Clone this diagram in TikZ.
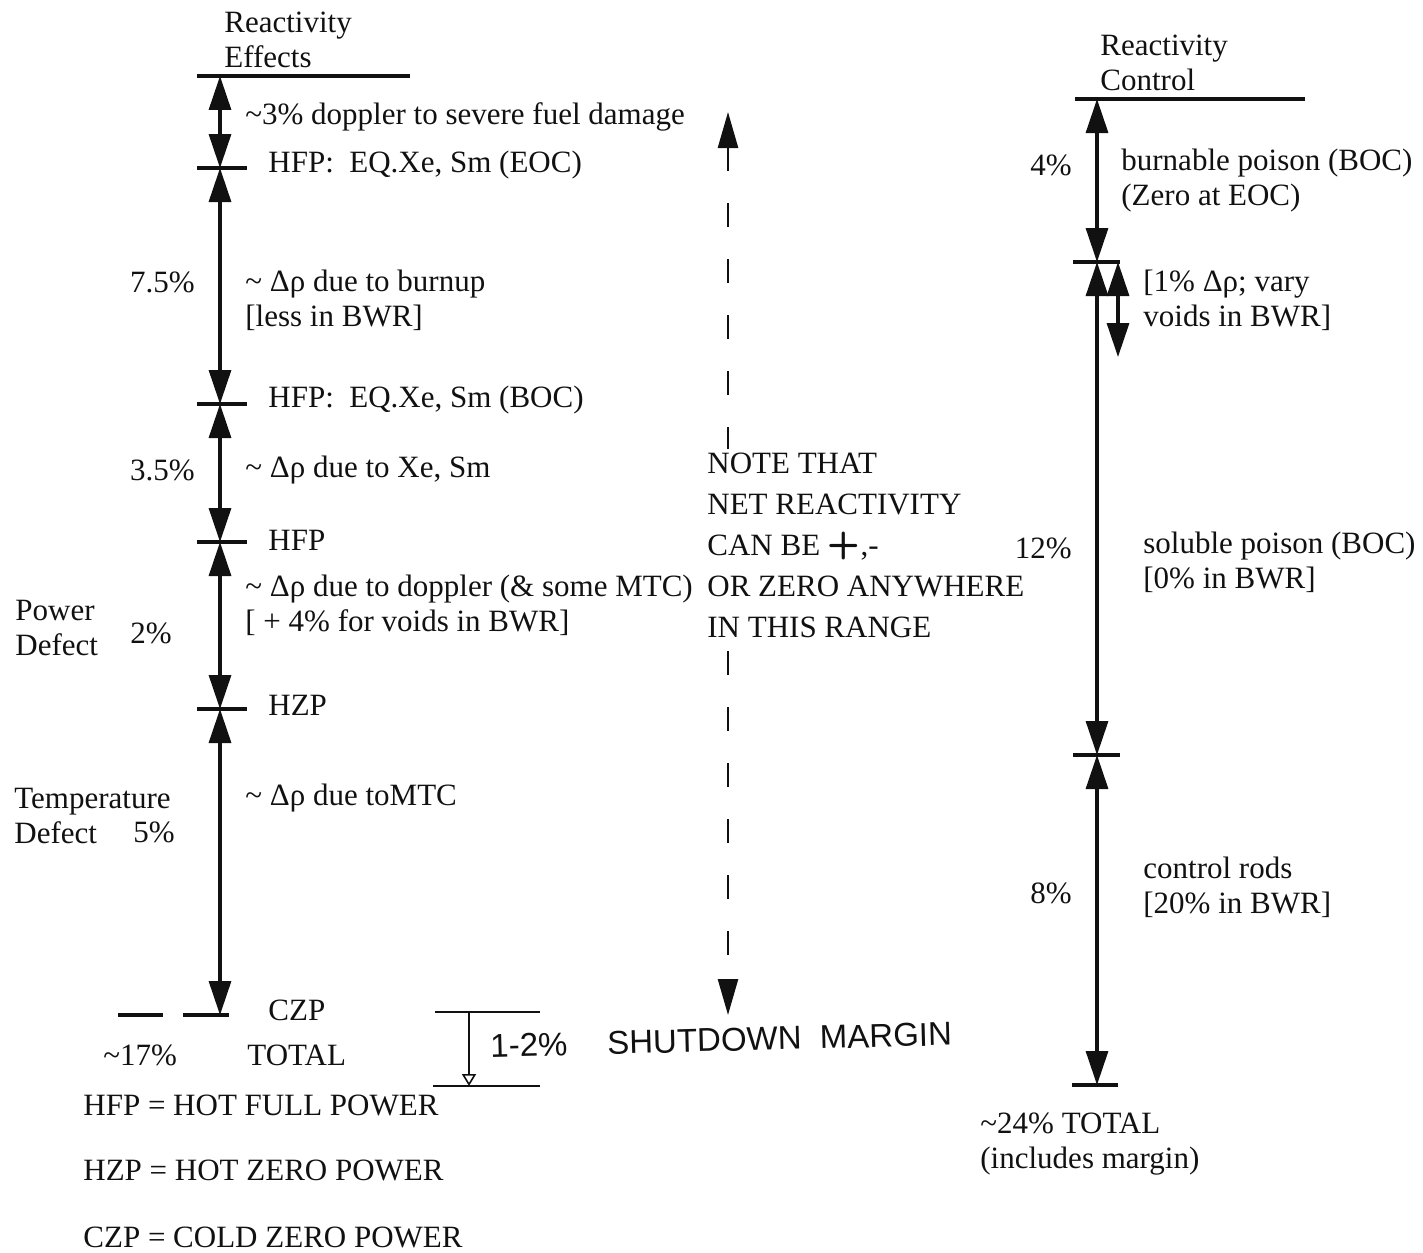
\documentclass[tikz,border=0pt]{standalone}
\usepackage{fontspec}
\setmainfont{Liberation Serif}
\newfontfamily\handfont{Liberation Sans}
\usepackage{xcolor}
\usetikzlibrary{arrows.meta,calc}
\definecolor{inkc}{HTML}{111111}

\begin{document}
\begin{tikzpicture}[x=0.5pt,y=-0.5pt,font=\fontsize{15.5}{17.5}\selectfont,
  every node/.style={inner sep=0pt,text=inkc},
  lbl/.style={anchor=west,align=left},
  pct/.style={anchor=east},
  axis/.style={draw=inkc,line width=1.6pt},
  rule/.style={draw=inkc,line width=1.8pt},
  dimarr/.style={axis,{Triangle[length=17pt,width=11pt]}-{Triangle[length=17pt,width=11pt]}},
  notearr/.style={draw=inkc,line width=1.3pt,dash pattern=on 12pt off 16pt,
             {Triangle[length=18pt,width=10pt]}-{Triangle[length=18pt,width=10pt]}},
]
\useasboundingbox (0,0) rectangle (1423,1252);

% reactivity effects
\coordinate (eTop) at (220,76);
\coordinate (eEOC) at (220,168);
\coordinate (eBOC) at (220,404);
\coordinate (eHFP) at (220,542);
\coordinate (eHZP) at (220,709);
\coordinate (eCZP) at (220,1015);

\node[lbl] (effHead) at (224,40) {Reactivity\\Effects};
\draw[rule] (197,76) -- (410,76);
\foreach \c in {eEOC,eBOC,eHFP,eHZP}
  \draw[rule] ($(\c)+(-23,0)$) -- ($(\c)+(27,0)$);
\draw[rule] (183,1015) -- (229,1015);
\draw[rule] (118,1015) -- (163,1015);

\draw[dimarr] (eTop) -- (eEOC);
\draw[dimarr] (eEOC) -- (eBOC);
\draw[dimarr] (eBOC) -- (eHFP);
\draw[dimarr] (eHFP) -- (eHZP);
\draw[dimarr] (eHZP) -- (eCZP);

\node[lbl] (dop) at (245,117) {\textasciitilde3\% doppler to severe fuel damage};
\node[lbl] (eoc) at (268,165) {HFP:\ \ EQ.Xe, Sm (EOC)};
\node[pct] (p75) at (195,282) {7.5\%};
\node[lbl] (burn) at (245,300) {\textasciitilde{} Δρ due to burnup\\{[}less in BWR]};
\node[lbl] (boc) at (268,400) {HFP:\ \ EQ.Xe, Sm (BOC)};
\node[pct] (p35) at (195,470) {3.5\%};
\node[lbl] (xe) at (245,470) {\textasciitilde{} Δρ due to Xe, Sm};
\node[lbl] (hfp) at (268,540) {HFP};
\node[lbl] (dopp) at (245,605) {\textasciitilde{} Δρ due to doppler (\& some MTC)\\{[} + 4\% for voids in BWR]};
\node[lbl] (pdef) at (15,628) {Power\\Defect};
\node[pct] (p2) at (172,633) {2\%};
\node[lbl] (hzp) at (268,705) {HZP};
\node[lbl] (tdef) at (14,816) {Temperature\\Defect};
\node[pct] (p5) at (175,832) {5\%};
\node[lbl] (mtc) at (245,798) {\textasciitilde{} Δρ due toMTC};
\node[lbl] (czp) at (268,1010) {CZP};
\node[lbl] (p17) at (103,1055) {\textasciitilde17\%};
\node[lbl] (etot) at (247,1055) {TOTAL};

\node[lbl] (kHFP) at (83,1105) {HFP = HOT FULL POWER};
\node[lbl] (kHZP) at (83,1170) {HZP = HOT ZERO POWER};
\node[lbl] (kCZP) at (83,1237) {CZP = COLD ZERO POWER};

% net reactivity range
\coordinate (nTop) at (728,112);
\coordinate (nBot) at (728,1015);
\draw[notearr] (nTop) -- (nBot);
\node[lbl,fill=white,inner sep=2pt] (note) at (703,545)
  {NOTE THAT\\[3pt]NET REACTIVITY\\[3pt]CAN BE {\sffamily\bfseries\fontsize{19}{17}\selectfont +},-\\[3pt]OR ZERO ANYWHERE\\[3pt]IN THIS RANGE};

% shutdown margin
\coordinate (sTop) at (469,1012);
\coordinate (sBot) at (469,1086);
\draw[rule,line width=1.1pt] (435,1012) -- (540,1012);
\draw[rule,line width=1.1pt] (433,1086) -- (540,1086);
\draw[draw=inkc,line width=0.8pt,-{Triangle[open,length=6pt,width=7pt]}] (sTop) -- (sBot);
\node[lbl,rotate=1.5,font=\handfont\fontsize{16.5}{17}\selectfont] (sdm) at (490,1046)
  {1-2\%\hspace{20pt}SHUTDOWN\ \ MARGIN};

% reactivity control
\coordinate (cTop) at (1097,99);
\coordinate (cBP) at (1097,262);
\coordinate (cSP) at (1097,755);
\coordinate (cBot) at (1097,1085);
\coordinate (vTop) at (1118,262);
\coordinate (vBot) at (1118,357);

\node[lbl] (ctlHead) at (1100,63) {Reactivity\\Control};
\draw[rule] (1075,99) -- (1305,99);
\draw[rule] (1073,262) -- (1120,262);
\draw[rule] (1073,755) -- (1120,755);
\draw[rule] (1072,1085) -- (1118,1085);

\draw[dimarr] (cTop) -- (cBP);
\draw[dimarr] (cBP) -- (cSP);
\draw[dimarr] (cSP) -- (cBot);
\draw[dimarr] (vTop) -- (vBot);

\node[pct] (p4) at (1072,165) {4\%};
\node[lbl] (bp) at (1121,181) {burnable poison (BOC)\\(Zero at EOC)};
\node[lbl] (vary) at (1143,300) {{[}1\% Δρ; vary\\voids in BWR]};
\node[pct] (p12) at (1072,548) {12\%};
\node[lbl] (sp) at (1143,562) {soluble poison (BOC)\\{[}0\% in BWR]};
\node[pct] (p8) at (1072,893) {8\%};
\node[lbl] (cr) at (1143,887) {control rods\\{[}20\% in BWR]};
\node[lbl] (ctot) at (980,1144) {\textasciitilde24\% TOTAL\\(includes margin)};
\end{tikzpicture}
\end{document}
